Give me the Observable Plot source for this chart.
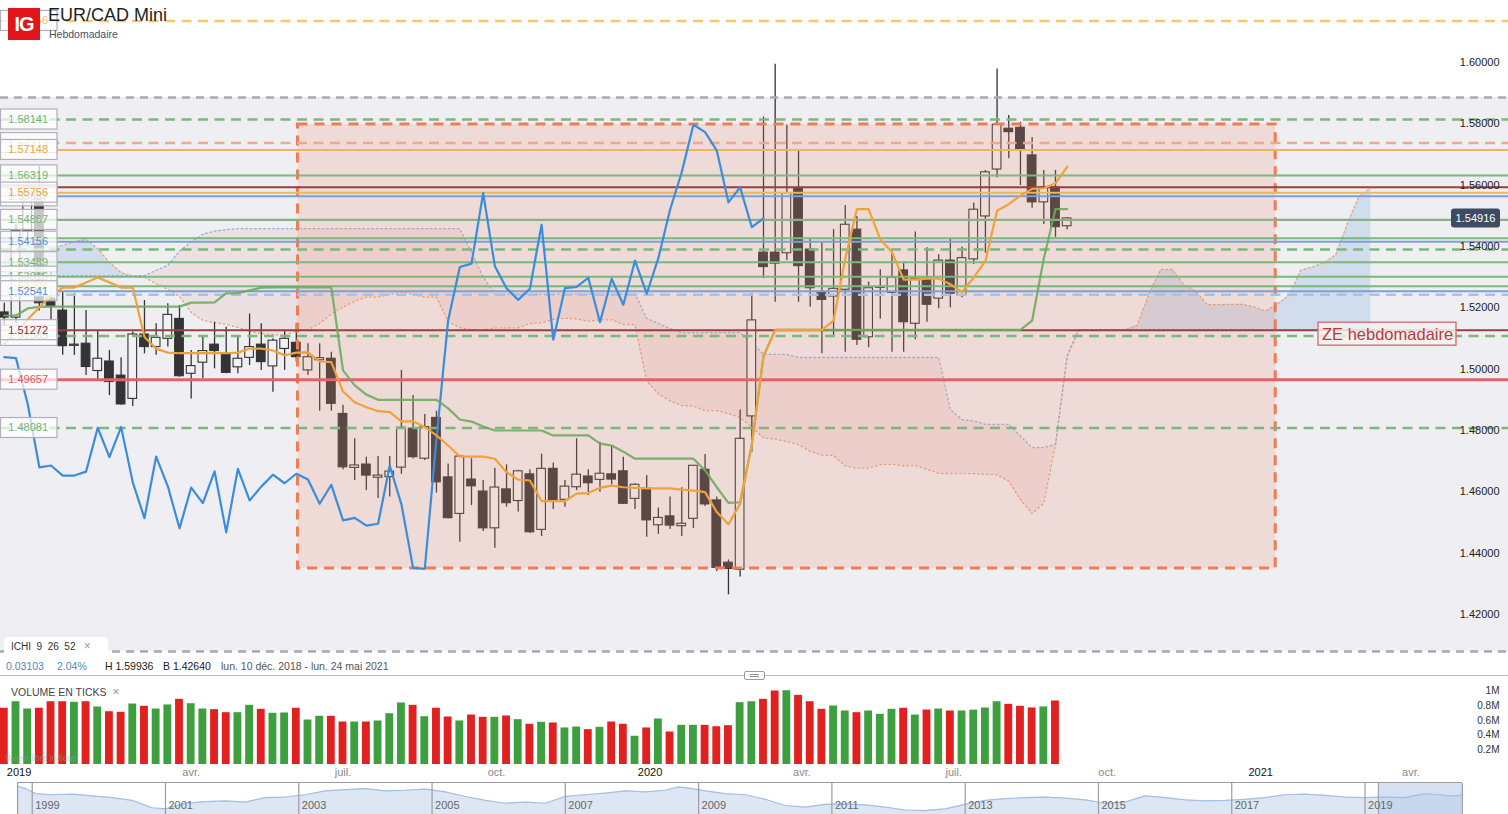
<!DOCTYPE html>
<html lang="fr">
<head>
<meta charset="utf-8">
<title>EUR/CAD Mini</title>
<script src="https://cdn.jsdelivr.net/npm/d3@7"></script>
<script src="https://cdn.jsdelivr.net/npm/@observablehq/plot@0.6"></script>
<style>
  html,body{margin:0;padding:0;background:#fff;}
  body{font-family:"Liberation Sans",Arial,Helvetica,sans-serif;}
  #wrap{position:relative;width:1508px;height:814px;overflow:hidden;background:#fff;}
  .abs{position:absolute;}
  #main{left:0;top:0;}
  #vol{left:0;top:680px;}
  #nav{left:0;top:783px;}
  #logo{left:8px;top:8px;width:32px;height:32px;background:#e2141c;color:#fff;font:bold 20px "Liberation Sans",Arial,sans-serif;line-height:33px;text-align:center;letter-spacing:-1px;}
  #title{left:48px;top:5px;font-size:18px;color:#1e1e1e;}
  #subtitle{left:49px;top:28px;font-size:10.5px;color:#4a4f66;}
  #ichi{left:4px;top:637px;width:104px;height:18px;background:#fff;border-radius:4px 4px 0 0;font-size:10px;color:#333;line-height:19px;padding-left:7px;box-sizing:border-box;white-space:pre;}
  #ichi .x{color:#999;font-size:12px;}
  .info{top:660px;font-size:10.5px;white-space:pre;}
  #sep{left:0;top:675px;width:1508px;height:1px;background:#b8b8c0;}
  #handle{left:744px;top:671px;width:19px;height:7px;border:1px solid #9a9aa8;background:#fff;border-radius:2px;}
  #handle div{position:absolute;left:5px;width:9px;height:1px;background:#8a8a98;}
  #vlabel{left:11px;top:685px;font-size:10.5px;color:#444;}
  #vlabel span{color:#999;font-size:12px;margin-left:6px;}
  #vfree{left:5px;top:753px;font-size:8.5px;color:#999;opacity:.55;}
  #navtop{left:17px;top:782px;width:1445px;height:1px;background:#9a9aa8;}
</style>
</head>
<body>
<div id="wrap">
  <div id="main" class="abs"></div>
  <div id="logo" class="abs">IG</div>
  <div id="title" class="abs">EUR/CAD Mini</div>
  <div id="subtitle" class="abs">Hebdomadaire</div>
  <div id="ichi" class="abs">ICHI  9  26  52   <span class="x">×</span></div>
  <div class="abs info" style="left:6px;color:#4f88c6">0.03103</div>
  <div class="abs info" style="left:57px;color:#4f88c6">2.04%</div>
  <div class="abs info" style="left:105px;color:#222">H 1.59936</div>
  <div class="abs info" style="left:163px;color:#222">B 1.42640</div>
  <div class="abs info" style="left:221px;color:#555">lun. 10 déc. 2018 - lun. 24 mai 2021</div>
  <div id="sep" class="abs"></div>
  <div id="handle" class="abs"><div style="top:2px"></div><div style="top:4px"></div></div>
  <div id="vol" class="abs"></div>
  <div id="vlabel" class="abs">VOLUME EN TICKS<span>×</span></div>
  <div id="vfree" class="abs">Valeur libre indicatif</div>
  <div id="nav" class="abs"></div>
  <div id="navtop" class="abs"></div>
</div>
<script>
// ---------------- DATA ----------------
const weekStart = "2018-12-10"; // first weekly candle (Monday)

const open = [1.5185,1.5168,1.5450,1.5580,1.5230,1.5191,1.5076,1.5083,1.4994,1.5025,
 1.4979,1.4903,1.5113,1.5072,1.5099,1.5164,1.4985,1.5021,1.5080,1.5050,
 1.5006,1.5037,1.5080,1.5009,1.5066,1.5086,1.4996,1.5029,1.5034,1.4854,
 1.4678,1.4689,1.4646,1.4648,1.4679,1.4806,1.4708,1.4841,1.4647,1.4528,
 1.4640,1.4601,1.4481,1.4608,1.4570,1.4657,1.4476,1.4675,1.4574,1.4615,
 1.4650,1.4639,1.4657,1.4667,1.4577,1.4610,1.4491,1.4520,1.4488,1.4512,
 1.4672,1.4572,1.4369,1.4346,1.4846,1.5380,1.5380,1.5378,1.5588,1.5390,
 1.5251,1.5237,1.5259,1.5455,1.5104,1.5265,1.5249,1.5322,1.5148,1.5295,
 1.5230,1.5354,1.5239,1.5358,1.5498,1.5651,1.5784,1.5787,1.5697,1.5544,
 1.5593,1.5466];
const high = [1.5215,1.5470,1.5600,1.5660,1.5320,1.5253,1.5246,1.5191,1.5124,1.5061,
 1.5037,1.5121,1.5224,1.5148,1.5213,1.5208,1.5061,1.5104,1.5153,1.5137,
 1.5104,1.5180,1.5148,1.5099,1.5126,1.5148,1.5083,1.5083,1.5055,1.4882,
 1.4773,1.4713,1.4715,1.4715,1.4996,1.4914,1.4852,1.4863,1.4691,1.4715,
 1.4708,1.4637,1.4677,1.4688,1.4670,1.4672,1.4723,1.4694,1.4637,1.4773,
 1.4672,1.4762,1.4751,1.4713,1.4626,1.4653,1.4547,1.4583,1.4613,1.4685,
 1.4722,1.4583,1.4378,1.4867,1.5246,1.5822,1.5994,1.5795,1.5713,1.5423,
 1.5412,1.5455,1.5534,1.5498,1.5284,1.5324,1.5376,1.5349,1.5447,1.5396,
 1.5373,1.5423,1.5398,1.5542,1.5648,1.5979,1.5827,1.5805,1.5755,1.5648,
 1.5648,1.5494];
const low = [1.5140,1.5150,1.5420,1.5190,1.5160,1.5045,1.5045,1.4979,1.4963,1.4914,
 1.4882,1.4878,1.5050,1.5045,1.5072,1.4974,1.4903,1.4969,1.5001,1.4985,
 1.4985,1.5012,1.4996,1.4925,1.4996,1.5023,1.4980,1.4863,1.4863,1.4672,
 1.4637,1.4604,1.4578,1.4583,1.4657,1.4708,1.4702,1.4596,1.4512,1.4436,
 1.4555,1.4471,1.4416,1.4550,1.4534,1.4465,1.4454,1.4542,1.4550,1.4604,
 1.4588,1.4599,1.4623,1.4559,1.4542,1.4452,1.4461,1.4477,1.4454,1.4481,
 1.4552,1.4340,1.4264,1.4322,1.4729,1.5295,1.5218,1.5354,1.5218,1.5202,
 1.5050,1.5110,1.5055,1.5077,1.5070,1.5164,1.5055,1.5055,1.5096,1.5153,
 1.5197,1.5200,1.5233,1.5341,1.5378,1.5624,1.5686,1.5599,1.5525,1.5472,
 1.5430,1.5455];
const close = [1.5168,1.5450,1.5580,1.5215,1.5205,1.5075,1.5080,1.5007,1.5034,1.4958,
 1.4885,1.5113,1.5072,1.5102,1.5177,1.4977,1.5010,1.5059,1.5059,1.4988,
 1.5034,1.5072,1.5023,1.5093,1.5099,1.5039,1.5039,1.5036,1.4887,1.4680,
 1.4686,1.4653,1.4653,1.4666,1.4809,1.4713,1.4811,1.4631,1.4514,1.4715,
 1.4618,1.4481,1.4614,1.4563,1.4667,1.4468,1.4675,1.4572,1.4617,1.4656,
 1.4628,1.4659,1.4640,1.4561,1.4623,1.4507,1.4515,1.4490,1.4496,1.4685,
 1.4559,1.4352,1.4349,1.4773,1.5159,1.5333,1.5344,1.5574,1.5336,1.5264,
 1.5226,1.5262,1.5471,1.5096,1.5264,1.5268,1.5298,1.5153,1.5295,1.5210,
 1.5354,1.5246,1.5362,1.5520,1.5642,1.5797,1.5773,1.5713,1.5544,1.5593,
 1.5463,1.54916];

// tick volume, millions
const volume = [0.765,0.854,0.755,0.765,0.854,0.854,0.846,0.854,0.782,0.718,
 0.710,0.823,0.792,0.755,0.810,0.887,0.827,0.755,0.746,0.705,
 0.705,0.805,0.751,0.697,0.701,0.765,0.605,0.656,0.656,0.578,
 0.578,0.578,0.592,0.691,0.837,0.805,0.650,0.765,0.646,0.592,
 0.673,0.642,0.642,0.660,0.610,0.547,0.574,0.565,0.497,0.510,
 0.474,0.506,0.578,0.547,0.384,0.497,0.619,0.442,0.533,0.533,
 0.533,0.514,0.528,0.841,0.854,0.887,1.000,1.004,0.941,0.854,
 0.751,0.796,0.728,0.705,0.728,0.683,0.751,0.765,0.673,0.741,
 0.755,0.728,0.728,0.740,0.769,0.854,0.819,0.792,0.769,0.783,
 0.864,0.000];

// Ichimoku (9, 26, 52)
const tenkan = [1.5084,1.5123,1.5162,1.5201,1.5240,1.5266,1.5266,1.5283,1.5299,1.5283,
 1.5266,1.5266,1.5105,1.5067,1.5054,1.5052,1.5052,1.5052,1.5052,1.5052,
 1.5054,1.5067,1.5067,1.5061,1.5045,1.5054,1.5055,1.5025,1.5023,1.4927,
 1.4892,1.4876,1.4863,1.4860,1.4830,1.4830,1.4811,1.4784,1.4751,1.4715,
 1.4715,1.4715,1.4708,1.4664,1.4640,1.4637,1.4570,1.4570,1.4570,1.4594,
 1.4596,1.4613,1.4620,1.4615,1.4613,1.4611,1.4611,1.4611,1.4607,1.4604,
 1.4599,1.4534,1.4494,1.4561,1.4754,1.5042,1.5128,1.5128,1.5128,1.5128,
 1.5128,1.5158,1.5361,1.5522,1.5522,1.5423,1.5382,1.5292,1.5292,1.5295,
 1.5295,1.5277,1.5251,1.5299,1.5352,1.5517,1.5538,1.5566,1.5588,1.5590,
 1.5606,1.5660];
const kijun = [1.5175,1.5175,1.5198,1.5203,1.5204,1.5204,1.5204,1.5204,1.5204,1.5204,
 1.5204,1.5204,1.5204,1.5204,1.5204,1.5204,1.5217,1.5217,1.5218,1.5247,
 1.5248,1.5257,1.5266,1.5267,1.5267,1.5267,1.5267,1.5267,1.5267,1.4996,
 1.4947,1.4917,1.4900,1.4900,1.4900,1.4900,1.4900,1.4900,1.4872,1.4836,
 1.4829,1.4813,1.4800,1.4800,1.4800,1.4800,1.4800,1.4784,1.4784,1.4784,
 1.4784,1.4757,1.4751,1.4731,1.4708,1.4708,1.4708,1.4708,1.4708,1.4708,
 1.4670,1.4615,1.4564,1.4566,1.4754,1.5042,1.5128,1.5128,1.5128,1.5128,
 1.5128,1.5128,1.5128,1.5128,1.5128,1.5128,1.5128,1.5128,1.5128,1.5128,
 1.5128,1.5128,1.5128,1.5128,1.5128,1.5128,1.5128,1.5128,1.5158,1.5361,
 1.5522,1.5522];
// Senkou span A for the first 26 plotted weeks (before the visible source bars)
const senkouAEarly = [1.5390,1.5400,1.5410,1.5415,1.5397,1.5403,1.5416,1.5423,1.5393,1.5348,
 1.5315,1.5302,1.5299,1.5279,1.5260,1.5237,1.5185,1.5159,1.5152,1.5146,
 1.5136,1.5123,1.5116,1.5113,1.5110,1.5126];
const senkouB = [1.5305,1.5305,1.5305,1.5305,1.5305,1.5305,1.5305,1.5305,1.5305,1.5305,
 1.5305,1.5305,1.5305,1.5322,1.5338,1.5385,1.5415,1.5440,1.5450,1.5455,
 1.5458,1.5458,1.5458,1.5458,1.5458,1.5458,1.5458,1.5458,1.5458,1.5458,
 1.5458,1.5458,1.5458,1.5458,1.5458,1.5458,1.5458,1.5458,1.5458,1.5458,
 1.5380,1.5300,1.5245,1.5245,1.5245,1.5245,1.5245,1.5245,1.5245,1.5245,
 1.5245,1.5245,1.5245,1.5245,1.5245,1.5166,1.5149,1.5132,1.5119,1.5119,
 1.5119,1.5119,1.5119,1.5119,1.5086,1.5048,1.5048,1.5048,1.5038,1.5038,
 1.5038,1.5038,1.5038,1.5038,1.5038,1.5038,1.5038,1.5038,1.5038,1.5038,
 1.5038,1.4868,1.4835,1.4831,1.4820,1.4820,1.4820,1.4782,1.4744,1.4744,
 1.4755,1.5043,1.5129,1.5129,1.5129,1.5129,1.5129,1.5129,1.5129,1.5129,
 1.5129,1.5129,1.5129,1.5129,1.5129,1.5129,1.5129,1.5129,1.5129,1.5129,
 1.5129,1.5129,1.5129,1.5129,1.5129,1.5129,1.5129,1.5129];

// Horizontal drawings
const levelsSolid = [
  {p:1.57148, c:"#e9b85c", w:2},
  {p:1.56319, c:"#7bb87b", w:2},
  {p:1.55930, c:"#9a3e3e", w:2},
  {p:1.55756, c:"#e9b85c", w:2},
  {p:1.55637, c:"#7aa2d2", w:2},
  {p:1.54867, c:"#86b286", w:2.2},
  {p:1.54270, c:"#7bb87b", w:2},
  {p:1.54156, c:"#7aa2d2", w:2},
  {p:1.53489, c:"#7bb87b", w:2},
  {p:1.53016, c:"#7bb87b", w:2},
  {p:1.52704, c:"#7bb87b", w:2},
  {p:1.52541, c:"#7aa2d2", w:2},
  {p:1.51272, c:"#9a3e3e", w:2},
  {p:1.49657, c:"#e06464", w:3}
];
const levelsDashed = [
  {p:1.61356, c:"#f3c96a"},
  {p:1.58141, c:"#7bb87b"},
  {p:1.57373, c:"#eda88f"},
  {p:1.53900, c:"#7bb87b"},
  {p:1.52430, c:"#a9c2e4"},
  {p:1.51085, c:"#7bb87b"},
  {p:1.48081, c:"#7bb87b"}
];
const bandLevels = [{lo:1.4079, hi:1.5886}];
const zone = [{start:"2019-06-04", end:"2021-01-10", lo:1.4350, hi:1.5798}];
const levelLabels = [
  {p:1.61356, t:"1.61356", c:"#e9c070"},
  {p:1.58141, t:"1.58141", c:"#72b472"},
  {p:1.57373, t:"1.57373", c:"#eba58c"},
  {p:1.57148, t:"1.57148", c:"#e2a93c"},
  {p:1.56319, t:"1.56319", c:"#72b472"},
  {p:1.55637, t:"1.55637", c:"#6a98cc"},
  {p:1.55756, t:"1.55756", c:"#e2a93c"},
  {p:1.54867, t:"1.54867", c:"#72b472"},
  {p:1.54156, t:"1.54156", c:"#5a8cc8"},
  {p:1.53489, t:"1.53489", c:"#72b472"},
  {p:1.53016, t:"1.53016", c:"#72b472"},
  {p:1.52704, t:"1.52704", c:"#e2b35a"},
  {p:1.52541, t:"1.52541", c:"#5a8cc8"},
  {p:1.51085, t:"1.51085", c:"#72b472"},
  {p:1.51272, t:"1.51272", c:"#8a3030"},
  {p:1.49657, t:"1.49657", c:"#d85a5a"},
  {p:1.48081, t:"1.48081", c:"#72b472"}
];
const lastPrice = 1.54916;
const zeLabel = {p:1.51272, t:"ZE hebdomadaire"};
const yTicks = [1.42,1.44,1.46,1.48,1.50,1.52,1.54,1.56,1.58,1.60];
const volTicks = [0.2,0.4,0.6,0.8,1];
const timeTicks = [
  {d:"2019-01-01", t:"2019", year:true},
  {d:"2019-04-01", t:"avr."},
  {d:"2019-07-01", t:"juil."},
  {d:"2019-10-01", t:"oct."},
  {d:"2020-01-01", t:"2020", year:true},
  {d:"2020-04-01", t:"avr."},
  {d:"2020-07-01", t:"juil."},
  {d:"2020-10-01", t:"oct."},
  {d:"2021-01-01", t:"2021", year:true},
  {d:"2021-04-01", t:"avr."}
];
// Navigator (long history)
const navYears = [1998.78,1998.9,1999.05,1999.3,1999.6,1999.9,2000.2,2000.5,2000.8,2001.0,
 2001.3,2001.6,2001.9,2002.2,2002.5,2002.8,2003.1,2003.4,2003.7,2004.0,
 2004.3,2004.6,2004.9,2005.2,2005.5,2005.8,2006.1,2006.4,2006.7,2007.0,
 2007.3,2007.6,2007.9,2008.2,2008.5,2008.7,2008.9,2009.1,2009.4,2009.7,
 2010.0,2010.3,2010.6,2010.9,2011.2,2011.5,2011.8,2012.1,2012.4,2012.7,
 2013.0,2013.3,2013.6,2013.9,2014.2,2014.5,2014.8,2015.1,2015.4,2015.7,
 2016.0,2016.3,2016.6,2016.9,2017.2,2017.5,2017.8,2018.1,2018.4,2018.7,
 2019.0,2019.3,2019.6,2019.9,2020.1,2020.25,2020.46];
const navValues = [1.70,1.66,1.57,1.55,1.56,1.53,1.50,1.45,1.32,1.30,
 1.40,1.43,1.44,1.42,1.50,1.51,1.55,1.62,1.64,1.66,
 1.62,1.63,1.65,1.60,1.52,1.45,1.40,1.42,1.40,1.52,
 1.55,1.58,1.62,1.60,1.63,1.69,1.66,1.62,1.57,1.55,
 1.47,1.36,1.33,1.38,1.39,1.37,1.33,1.28,1.27,1.30,
 1.38,1.45,1.48,1.50,1.51,1.49,1.46,1.40,1.42,1.53,
 1.50,1.46,1.44,1.45,1.47,1.50,1.55,1.56,1.54,1.51,
 1.50,1.51,1.50,1.57,1.55,1.53,1.54];
const navLabelYears = [1999,2001,2003,2005,2007,2009,2011,2013,2015,2017,2019];
const navSelection = [{a:2019.2, b:2020.46}];

// ---------------- BUILD ----------------
const DAY = 864e5;
const FONT = "Liberation Sans, Arial, Helvetica, sans-serif";
const t0 = new Date(weekStart + "T00:00:00Z");
const weeks = d3.utcMonday.range(t0, d3.utcMonday.offset(t0, senkouB.length));
const xStart = new Date(+t0 - 2.28 * DAY), xEnd = new Date(+t0 + 901.5 * DAY);

const candles = close.map((c, i) => ({date: weeks[i], o: open[i], h: high[i], l: low[i], c}));
const ind = candles.map((d, i) => ({date: d.date, tenkan: tenkan[i], kijun: kijun[i]}));
const chikou = close.slice(26).map((c, i) => ({date: weeks[i], v: c}));
const cloud = weeks.map((date, i) => ({
  date,
  a: i < senkouAEarly.length ? senkouAEarly[i] : (tenkan[i - 26] + kijun[i - 26]) / 2,
  b: senkouB[i]
}));
const zoneData = zone.map(z => ({start: new Date(z.start + "T00:00:00Z"), end: new Date(z.end + "T00:00:00Z"), lo: z.lo, hi: z.hi}));
const bandEdges = [bandLevels[0].lo, bandLevels[0].hi];

const main = Plot.plot({
  width: 1508, height: 660,
  marginTop: 0, marginBottom: 0, marginLeft: 0, marginRight: 0,
  x: {type: "utc", domain: [xStart, xEnd], axis: null},
  y: {domain: [1.405, 1.62022], axis: null},
  color: {type: "identity"},
  style: {background: "transparent", fontFamily: FONT, overflow: "hidden"},
  marks: [
    Plot.rect(bandLevels, {y1: "lo", y2: "hi", fill: "#efeff3"}),
    // cloud
    Plot.areaY(cloud, {x: "date", y1: "b", y2: d => Math.max(d.a, d.b), fill: "rgb(160,190,225)", fillOpacity: 0.38}),
    Plot.areaY(cloud, {x: "date", y1: "a", y2: d => Math.max(d.a, d.b), fill: "rgb(225,165,165)", fillOpacity: 0.2}),
    Plot.line(cloud, {x: "date", y: "a", stroke: "#e6a27a", strokeWidth: 1.3, strokeDasharray: "1.5,3"}),
    Plot.line(cloud, {x: "date", y: "b", stroke: "#8fb0da", strokeWidth: 1.3, strokeDasharray: "1.5,3"}),
    // candles
    Plot.ruleX(candles, {x: "date", y1: "l", y2: "h", stroke: "#333", strokeWidth: 1.3}),
    Plot.rect(candles, {
      x1: d => new Date(+d.date - 2.6 * DAY), x2: d => new Date(+d.date + 2.6 * DAY),
      y1: "o", y2: "c",
      fill: d => d.c >= d.o ? "#f1f1f4" : "#343438",
      stroke: "#333", strokeWidth: 1.1
    }),
    // zone
    Plot.rect(zoneData, {x1: "start", x2: "end", y1: "lo", y2: "hi", fill: "rgb(235,140,110)", fillOpacity: 0.21}),
    Plot.rect(zoneData, {x1: "start", x2: "end", y1: "lo", y2: "hi", fill: "none", stroke: "#ee7c56", strokeWidth: 3, strokeDasharray: "10,7"}),
    // level drawings
    Plot.ruleY(bandEdges, {stroke: "#a9a9b4", strokeWidth: 2.5, strokeDasharray: "8,6"}),
    Plot.ruleY(levelsSolid, {y: "p", stroke: "c", strokeWidth: "w"}),
    Plot.ruleY(levelsDashed, {y: "p", stroke: "c", strokeWidth: 2.5, strokeDasharray: "10,6.5"}),
    // ichimoku lines
    Plot.line(chikou, {x: "date", y: "v", stroke: "#3b8ddb", strokeWidth: 2.2}),
    Plot.line(ind, {x: "date", y: "kijun", stroke: "#6eaa5e", strokeOpacity: 0.9, strokeWidth: 2.2}),
    Plot.line(ind, {x: "date", y: "tenkan", stroke: "#f0a23a", strokeWidth: 2.2}),
    // price axis labels
    Plot.text(yTicks, {y: d => d, text: d => d.toFixed(5), frameAnchor: "right", textAnchor: "end", dx: -9, fontSize: 11, fill: "#222"})
  ]
});
document.getElementById("main").appendChild(main);

// overlays positioned through the plot's own scales
const sy = main.scale("y");
const fy = sy.apply ? (p => sy.apply(p)) : d3.scaleLinear(sy.domain, sy.range);
const svg = d3.select(main);
const g = svg.append("g").attr("font-family", FONT).attr("text-anchor", "start");
levelLabels.forEach(l => {
  const y = fy(l.p);
  g.append("rect").attr("x", 0.5).attr("y", y - 10).attr("width", 56.5).attr("height", 20)
    .attr("fill", "#fff").attr("fill-opacity", 0.72).attr("stroke", "#b0b0ba").attr("stroke-width", 1.2);
  g.append("text").attr("x", 48).attr("y", y).attr("dy", "0.36em").attr("text-anchor", "end")
    .attr("font-size", 11).attr("fill", l.c).text(l.t);
});
// last price tag
{
  const y = fy(lastPrice);
  g.append("rect").attr("x", 1451).attr("y", y - 9.5).attr("width", 49).attr("height", 19).attr("rx", 3).attr("fill", "#3e4b63");
  g.append("text").attr("x", 1475.5).attr("y", y).attr("dy", "0.36em").attr("text-anchor", "middle")
    .attr("font-size", 11).attr("fill", "#fff").text(lastPrice.toFixed(5));
}
// ZE label
{
  const y = fy(zeLabel.p) + 4;
  g.append("rect").attr("x", 1318).attr("y", y - 11.5).attr("width", 138).attr("height", 23)
    .attr("fill", "#f6f0f0").attr("fill-opacity", 0.85).attr("stroke", "#d06a6a").attr("stroke-width", 1.3);
  g.append("text").attr("x", 1322).attr("y", y).attr("dy", "0.36em").attr("text-anchor", "start")
    .attr("font-size", 16.5).attr("fill", "#b63c3c").text(zeLabel.t);
}

// ---------------- VOLUME ----------------
const volData = volume.map((v, i) => ({date: weeks[i], v, up: close[i] >= open[i]}));
const tt = timeTicks.map(d => ({...d, date: new Date(d.d + "T00:00:00Z")}));
const vol = Plot.plot({
  width: 1508, height: 100,
  marginTop: 0, marginBottom: 16, marginLeft: 0, marginRight: 0,
  x: {type: "utc", domain: [xStart, xEnd], axis: null},
  y: {domain: [0, 84 / 73.5], axis: null},
  color: {type: "identity"},
  style: {background: "transparent", fontFamily: FONT, overflow: "visible"},
  marks: [
    Plot.rect(volData, {
      x1: d => new Date(+d.date - 2.35 * DAY), x2: d => new Date(+d.date + 2.35 * DAY),
      y1: () => 0, y2: "v",
      fill: d => d.up ? "#3d9f3d" : "#e12020"
    }),
    Plot.text(volTicks, {y: d => d, text: d => d === 1 ? "1M" : d + "M", frameAnchor: "right", textAnchor: "end", dx: -9, fontSize: 10, fill: "#333"}),
    Plot.text(tt.slice(0, 1), {x: "date", text: "t", frameAnchor: "bottom", dy: 11, dx: -22, fontSize: 11, fill: "#111"}),
    Plot.text(tt.slice(1), {x: "date", text: "t", frameAnchor: "bottom", dy: 11, fontSize: 11, fill: d => d.year ? "#111" : "#8a8a8a"})
  ]
});
document.getElementById("vol").appendChild(vol);

// ---------------- NAVIGATOR ----------------
const nav = navYears.map((year, i) => ({year, v: navValues[i]}));
const navPlot = Plot.plot({
  width: 1508, height: 31,
  marginTop: 0, marginBottom: 0, marginLeft: 0, marginRight: 0,
  x: {type: "linear", domain: [1998.524, 2021.153], axis: null},
  y: {domain: [1.20, 1.75], axis: null},
  style: {background: "transparent", fontFamily: FONT},
  marks: [
    Plot.areaY(nav, {x: "year", y1: () => 1.20, y2: "v", fill: "#dde7f4"}),
    Plot.rect(navSelection, {x1: "a", x2: "b", fill: "#b9cde8", fillOpacity: 0.6}),
    Plot.lineY(nav, {x: "year", y: "v", stroke: "#a3bfe2", strokeWidth: 1.2}),
    Plot.ruleX(navLabelYears, {stroke: "#9a9aa8", strokeWidth: 1.2}),
    Plot.ruleX([navYears[0], navYears[navYears.length - 1]], {stroke: "#9a9aa8", strokeWidth: 1.2}),
    Plot.ruleX([navSelection[0].a], {stroke: "#9a9aa8", strokeWidth: 1}),
    Plot.text(navLabelYears, {x: d => d, text: d => String(d), textAnchor: "start", dx: 3, frameAnchor: "bottom", dy: -6, fontSize: 11, fill: "#666"})
  ]
});
document.getElementById("nav").appendChild(navPlot);
</script>
</body>
</html>
